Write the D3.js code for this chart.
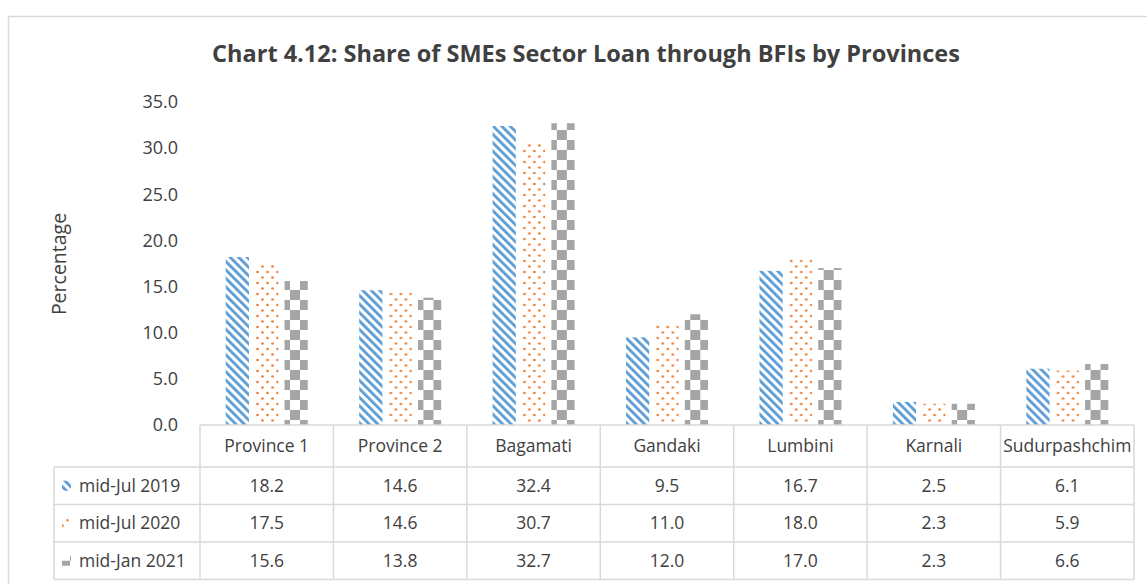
<!DOCTYPE html>
<html>
<head>
<meta charset="utf-8">
<script src="https://cdn.jsdelivr.net/npm/d3@7"></script>
<style>
  body { margin: 0; background: #fff; }
  svg { display: block; font-family: "Open Sans", sans-serif; }
</style>
</head>
<body>
<svg id="chart" width="1147" height="584"></svg>
<script>
let categories = ["Province 1", "Province 2", "Bagamati", "Gandaki", "Lumbini", "Karnali", "Sudurpashchim"]
let seriesNames = ["mid-Jul 2019", "mid-Jul 2020", "mid-Jan 2021"]
let julyNineteen = [18.2, 14.6, 32.4, 9.5, 16.7, 2.5, 6.1]
let julyTwenty = [17.5, 14.6, 30.7, 11.0, 18.0, 2.3, 5.9]
let janTwentyOne = [15.6, 13.8, 32.7, 12.0, 17.0, 2.3, 6.6]
let yTicks = [0, 5, 10, 15, 20, 25, 30, 35]

let values = [julyNineteen, julyTwenty, janTwentyOne]
let fills = ["url(#pat-stripe)", "url(#pat-dots)", "url(#pat-check)"]
let textColour = "#404040"
let gridColour = "#d9d9d9"

let svg = d3.select("#chart")

// patterns, roughly the excel ones
let defs = svg.append("defs")
let stripe = defs.append("pattern")
  .attr("id", "pat-stripe")
  .attr("patternUnits", "userSpaceOnUse")
  .attr("width", 6).attr("height", 6)
  .attr("patternTransform", "rotate(-45)")
stripe.append("rect").attr("width", 6).attr("height", 6).attr("fill", "#fff")
stripe.append("rect").attr("width", 2.8).attr("height", 6).attr("fill", "#5b9bd5")

let dots = defs.append("pattern")
  .attr("id", "pat-dots")
  .attr("patternUnits", "userSpaceOnUse")
  .attr("width", 10).attr("height", 11)
dots.append("rect").attr("width", 10).attr("height", 11).attr("fill", "#fff")
dots.selectAll("circle")
  .data([[2.5, 2.5], [7.5, 8]])
  .enter().append("circle")
  .attr("cx", d => d[0]).attr("cy", d => d[1]).attr("r", 1.3)
  .attr("fill", "#ed7d31")

let check = defs.append("pattern")
  .attr("id", "pat-check")
  .attr("patternUnits", "userSpaceOnUse")
  .attr("width", 20).attr("height", 20)
check.append("rect").attr("width", 20).attr("height", 20).attr("fill", "#fff")
check.append("rect").attr("width", 10).attr("height", 10).attr("fill", "#a5a5a5")
check.append("rect").attr("x", 10).attr("y", 10).attr("width", 10).attr("height", 10).attr("fill", "#a5a5a5")

// outer frame
svg.append("rect")
  .attr("x", 8.5).attr("y", 16.5)
  .attr("width", 1200).attr("height", 700)
  .attr("fill", "none")
  .attr("stroke", gridColour)
  .attr("stroke-width", 1.5)

svg.append("text")
  .attr("x", 586).attr("y", 62)
  .attr("text-anchor", "middle")
  .attr("font-size", 23.5)
  .attr("font-weight", "bold")
  .attr("fill", textColour)
  .text("Chart 4.12: Share of SMEs Sector Loan through BFIs by Provinces")

let x0 = d3.scaleBand()
  .domain(categories)
  .range([200, 1134])

let x1 = d3.scaleBand()
  .domain(seriesNames)
  .range([25.75, 107.75])
  .paddingInner(0.21)

let y = d3.scaleLinear()
  .domain([0, 35])
  .range([425, 102])

let yAxis = svg.append("g")
  .attr("transform", "translate(183,0)")
  .call(d3.axisLeft(y).tickValues(yTicks).tickFormat(d3.format(".1f")).tickSize(0).tickPadding(5))
yAxis.select(".domain").remove()
yAxis.selectAll("text")
  .attr("font-family", "Open Sans")
  .attr("font-size", 18)
  .attr("fill", textColour)

svg.append("text")
  .attr("transform", "translate(66,264) rotate(-90)")
  .attr("text-anchor", "middle")
  .attr("font-size", 19.5)
  .attr("fill", textColour)
  .text("Percentage")

// bars
let groups = svg.selectAll(".cat")
  .data(categories)
  .enter().append("g")
  .attr("class", "cat")
  .attr("transform", d => `translate(${x0(d)},0)`)

groups.selectAll("rect")
  .data((d, i) => seriesNames.map((s, j) => ({ series: s, value: values[j][i], fill: fills[j] })))
  .enter().append("rect")
  .attr("x", d => x1(d.series))
  .attr("y", d => y(d.value))
  .attr("width", x1.bandwidth())
  .attr("height", d => y(0) - y(d.value))
  .attr("fill", d => d.fill)

// data table under the plot
let headerTop = 425
let rowTops = [467, 504.5, 542]
let rowH = 37.5
let tableLeft = 54
let tableRight = x0.range()[1]

let table = svg.append("g")
  .attr("stroke", gridColour)
  .attr("stroke-width", 1.5)
  .attr("fill", "none")

table.append("line")
  .attr("x1", 200).attr("x2", tableRight)
  .attr("y1", headerTop).attr("y2", headerTop)
rowTops.concat([rowTops[2] + rowH]).forEach(t => {
  table.append("line")
    .attr("x1", tableLeft).attr("x2", tableRight)
    .attr("y1", t).attr("y2", t)
})
table.append("line")
  .attr("x1", tableLeft).attr("x2", tableLeft)
  .attr("y1", rowTops[0]).attr("y2", rowTops[2] + rowH)
categories.concat([null]).forEach(c => {
  let xx = c === null ? tableRight : x0(c)
  table.append("line")
    .attr("x1", xx).attr("x2", xx)
    .attr("y1", headerTop).attr("y2", rowTops[2] + rowH)
})

svg.selectAll(".head")
  .data(categories)
  .enter().append("text")
  .attr("class", "head")
  .attr("x", d => x0(d) + x0.bandwidth() / 2)
  .attr("y", 446)
  .attr("dy", "0.35em")
  .attr("text-anchor", "middle")
  .attr("font-size", 17.5)
  .attr("fill", textColour)
  .text(d => d)

let rows = svg.selectAll(".row")
  .data(seriesNames)
  .enter().append("g")
  .attr("class", "row")
  .attr("transform", (d, i) => `translate(0,${rowTops[i] + rowH / 2})`)

rows.append("rect")
  .attr("x", 62).attr("y", -5)
  .attr("width", 9).attr("height", 10)
  .attr("fill", (d, i) => fills[i])

rows.append("text")
  .attr("x", 79)
  .attr("dy", "0.35em")
  .attr("font-size", 17.5)
  .attr("fill", textColour)
  .text(d => d)

rows.selectAll(".val")
  .data((d, i) => values[i].map((v, k) => ({ cat: categories[k], v })))
  .enter().append("text")
  .attr("class", "val")
  .attr("x", d => x0(d.cat) + x0.bandwidth() / 2)
  .attr("dy", "0.35em")
  .attr("text-anchor", "middle")
  .attr("font-size", 17.5)
  .attr("fill", textColour)
  .text(d => d3.format(".1f")(d.v))
</script>
</body>
</html>
